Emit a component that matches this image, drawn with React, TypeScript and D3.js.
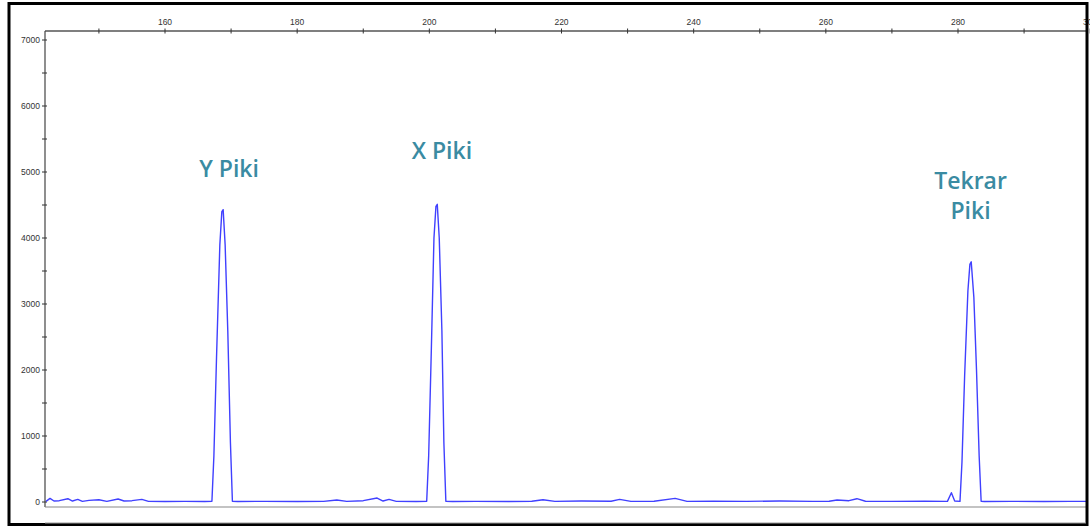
import React from "react";
import * as d3 from "d3";

// electropherogram trace: fragment size (bp) and signal (RFU)
const sizes = [
  142, 142.6, 143.2, 144, 145.3, 146, 146.8, 147.5, 148.5, 150, 151.2, 152.9, 153.8, 155, 156.5, 157.5,
  160, 163, 166, 167.1, 167.4, 167.8, 168.3, 168.6, 168.8, 169.1, 169.5, 169.9, 170.2, 171,
  175, 180, 184, 186.0, 187.5, 190, 192.1, 193.0, 193.9, 195, 198, 199.6, 199.9, 200.3, 200.7, 201.0, 201.2, 201.5, 201.9, 202.2, 202.5, 203.5,
  207, 212, 215.5, 217.2, 219, 223, 227.5, 228.8, 230.5, 234, 237.2, 239, 243, 248, 253, 258, 260.5, 261.7, 263.5, 264.7, 266,
  270, 275, 278.4, 279.0, 279.5, 280.3, 280.6, 281.0, 281.5, 281.8, 282.0, 282.4, 282.8, 283.2, 283.5, 284, 288, 293, 297, 300
];
const rfu = [
  10, 55, 15, 20, 50, 15, 40, 10, 25, 35, 10, 45, 15, 20, 40, 10,
  8, 10, 8, 10, 700, 2200, 3900, 4400, 4430, 3900, 2600, 900, 10, 8,
  10, 8, 10, 30, 10, 20, 60, 15, 40, 10, 8, 10, 700, 2300, 4000, 4480, 4510, 4000, 2600, 900, 10, 8,
  10, 8, 12, 35, 10, 15, 12, 40, 10, 12, 55, 10, 12, 10, 15, 10, 12, 30, 20, 50, 12,
  10, 12, 10, 140, 15, 10, 600, 1900, 3200, 3600, 3640, 3100, 2000, 700, 10, 8, 10, 8, 10, 10
];

const xTicks = [150, 160, 170, 180, 190, 200, 210, 220, 230, 240, 250, 260, 270, 280, 290, 300];
const yTicks = [0, 500, 1000, 1500, 2000, 2500, 3000, 3500, 4000, 4500, 5000, 5500, 6000, 6500, 7000];

const peakLabels = [
  { lines: ["Y Piki"], size: 169.7, rfu: 4930 },
  { lines: ["X Piki"], size: 201.9, rfu: 5200 },
  { lines: ["Tekrar", "Piki"], size: 281.9, rfu: 4740 },
];

export default function App() {
  const W = 1090, H = 528;
  const left = 45, right = 1088, top = 31, bottom = 507;

  const x = d3.scaleLinear().domain([160, 280]).range([165, 958]);
  const y = d3.scaleLinear().domain([0, 7000]).range([502, 40]);

  const pts: [number, number][] = sizes.map((s, i) => [s, rfu[i]]);
  const line = d3.line<[number, number]>().x(d => x(d[0])).y(d => y(d[1]));

  const tickFont = "'Liberation Sans', Arial, sans-serif";
  const labelColor = "#3a8ba2";

  return (
    <svg width={W} height={H} style={{ position: "absolute", left: 0, top: 0, background: "#fff" }}>
      <defs>
        <clipPath id="plot">
          <rect x={left} y={top} width={right - left} height={bottom - top} />
        </clipPath>
      </defs>

      {/* top axis */}
      <line x1={left} x2={right} y1={top} y2={top} stroke="#555" strokeWidth={1.3} />
      {xTicks.map(t => (
        <g key={t}>
          <line x1={x(t)} x2={x(t)} y1={top - 2.5} y2={top + 2.5} stroke="#333" />
          {t % 20 === 0 && (
            <text x={x(t)} y={top - 6} textAnchor="middle" fontSize={8.5} fontFamily={tickFont} fill="#333">{t}</text>
          )}
        </g>
      ))}

      {/* left axis */}
      <line x1={left} x2={left} y1={top} y2={bottom} stroke="#444" strokeWidth={1.2} />
      {yTicks.map(t => (
        <g key={t}>
          <line x1={left - 3} x2={left + 2} y1={y(t)} y2={y(t)} stroke="#333" />
          {t % 1000 === 0 && (
            <text x={left - 5} y={y(t)} dy="0.35em" textAnchor="end" fontSize={8.5} fontFamily={tickFont} fill="#333">{t}</text>
          )}
        </g>
      ))}

      {/* bottom line */}
      <line x1={left} x2={right} y1={bottom} y2={bottom} stroke="#888" strokeWidth={1.2} />

      {/* trace */}
      <path d={line(pts) ?? ""} fill="none" stroke="#4040ff" strokeWidth={1.4} strokeLinejoin="round" clipPath="url(#plot)" />

      {/* peak labels */}
      {peakLabels.map((p, i) => (
        <text key={i} x={x(p.size)} y={y(p.rfu)} textAnchor="middle" fontSize={23} fontWeight={600}
          fontFamily="'Comic Sans MS', 'Open Sans', sans-serif" fill={labelColor}>
          {p.lines.map((l, j) => (
            <tspan key={j} x={x(p.size)} dy={j === 0 ? 0 : 30}>{l}</tspan>
          ))}
        </text>
      ))}

      {/* frame */}
      <rect x={9} y={3.5} width={1078} height={521} fill="none" stroke="#000" strokeWidth={3} />
      <line x1={left} x2={right - 2} y1={523} y2={523} stroke="#999" />
    </svg>
  );
}
